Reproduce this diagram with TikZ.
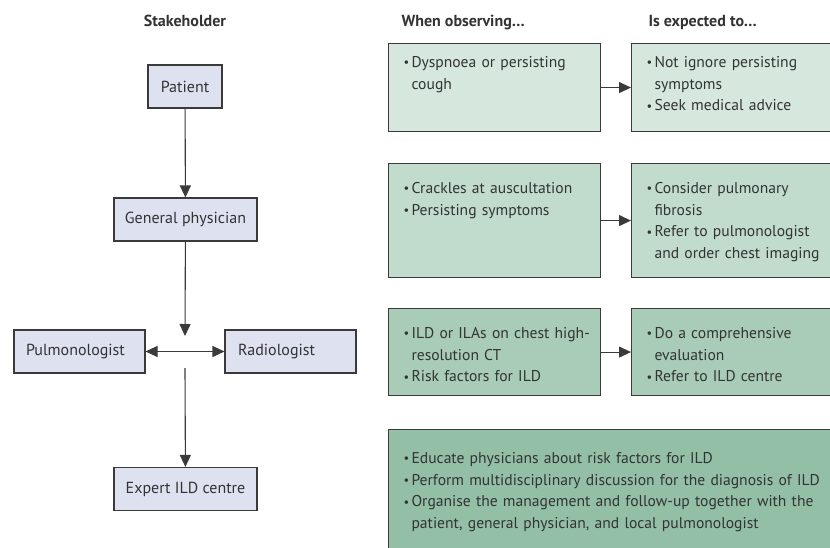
\documentclass[tikz,border=0pt]{standalone}
\usepackage{fontspec}
\setmainfont{PT Sans}
\usepackage{tikz}
\usetikzlibrary{positioning,arrows.meta}
\definecolor{ink}{HTML}{333333}
\definecolor{edge}{HTML}{3A3A3A}
\definecolor{lav}{HTML}{DDE1F0}
\definecolor{stepA}{HTML}{D6E7DD}
\definecolor{stepB}{HTML}{C1DCCC}
\definecolor{stepC}{HTML}{A8CCB7}
\definecolor{stepD}{HTML}{93BFA6}
\newcommand{\bl}{\makebox[8pt][l]{\raisebox{0.6pt}{\scalebox{0.8}{\textbullet}}}}
\newcommand{\ind}{\hspace*{8pt}}

\begin{document}
\begin{tikzpicture}[>={Triangle[length=12pt,width=11pt]}, x=1pt, y=-1pt,
    txt/.style={font=\fontsize{16}{21.7}\selectfont, text=ink},
    head/.style={txt, font=\fontsize{16}{21.7}\selectfont\bfseries},
    stakebox/.style={txt, draw=edge, line width=1.1pt, fill=lav, minimum height=43pt, inner sep=0pt},
    obsbox/.style={txt, font=\fontsize{15.6}{21.7}\selectfont, draw=edge, line width=1.1pt,
      anchor=north west, align=left, inner xsep=15pt, inner ysep=12pt},
    link/.style={->, edge, line width=1.1pt}]
    \clip (0,0) rectangle (830,547);
    \useasboundingbox (0,0) rectangle (830,547);
    % column heads
    \node[head, anchor=base] (hstake) at (185,26) {Stakeholder};
    \node[head, anchor=base west] (hobs) at (398,26) {When observing\dots};
    \node[head, anchor=base west] (hexp) at (645,26) {Is expected to\dots};
    % stakeholders
    \node[stakebox, minimum width=74pt] (patient) at (185,86.5) {Patient};
    \node[stakebox, minimum width=143pt] (gp) at (185.5,219.5) {General physician};
    \node[stakebox, minimum width=131pt, text width=107pt, inner xsep=12pt, align=left] (pulmo) at (79.5,351.5) {Pulmonologist};
    \node[stakebox, minimum width=131pt, text width=105pt, inner xsep=13pt, align=left] (radio) at (290.5,351.5) {Radiologist};
    \node[stakebox, minimum width=143pt] (centre) at (185.5,489) {Expert ILD centre};
    \coordinate (hubin) at (185,336);
    \coordinate (hubout) at (185,368);
    \draw[link] (patient) -- (gp);
    \draw[link] (gp) -- (hubin);
    \draw[link, <->] (pulmo) -- (radio);
    \draw[link] (hubout) -- (centre);
    % what they see, what they do
    \node[obsbox, fill=stepA, text width=182pt, text height=12pt, text depth=52pt] (see1) at (388,43)
      {\bl Dyspnoea or persisting\\\ind cough};
    \node[obsbox, fill=stepA, text width=240pt, text height=12pt, text depth=52pt] (do1) at (631,43)
      {\bl Not ignore persisting\\\ind symptoms\\\bl Seek medical advice};
    \node[obsbox, fill=stepB, text width=182pt, text height=18pt, text depth=72pt] (see2) at (388,163)
      {\bl Crackles at auscultation\\\bl Persisting symptoms};
    \node[obsbox, fill=stepB, text width=240pt, text height=18pt, text depth=72pt] (do2) at (631,163)
      {\bl Consider pulmonary\\\ind fibrosis\\\bl Refer to pulmonologist\\\ind and order chest imaging};
    \node[obsbox, fill=stepC, text width=182pt, text height=18pt, text depth=45pt] (see3) at (388,308)
      {\mbox{\bl ILD or ILAs on chest high-}\\\ind resolution CT\\\bl Risk factors for ILD};
    \node[obsbox, fill=stepC, text width=240pt, text height=18pt, text depth=45pt] (do3) at (631,308)
      {\bl Do a comprehensive\\\ind evaluation\\\bl Refer to ILD centre};
    \node[obsbox, fill=stepD, text width=500pt, text height=22pt, text depth=85pt] (do4) at (388,429)
      {\bl Educate physicians about risk factors for ILD\\
       \bl Perform multidisciplinary discussion for the diagnosis of ILD\\
       \bl Organise the management and follow-up together with the\\
       \ind patient, general physician, and local pulmonologist};
    \foreach \n in {1,2,3}
      \draw[link] (see\n) -- (see\n -| do\n.west);
\end{tikzpicture}
\end{document}
